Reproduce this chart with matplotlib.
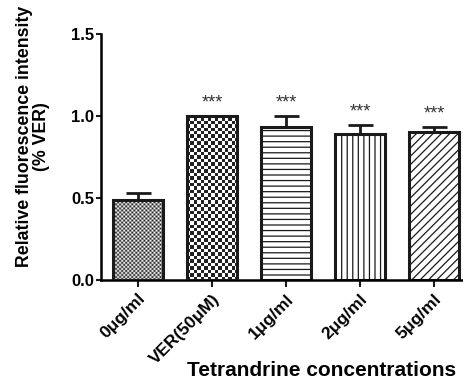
import numpy as np
import matplotlib.pyplot as plt
from matplotlib.colors import LinearSegmentedColormap

plt.rcParams["font.family"] = ["Liberation Sans", "DejaVu Sans"]
plt.rcParams["font.weight"] = "bold"
plt.rcParams["hatch.linewidth"] = 0.9

groups = ["0μg/ml", "VER(50μM)", "1μg/ml", "2μg/ml", "5μg/ml"]
means = [0.49, 1.00, 0.93, 0.89, 0.90]
errors = [0.04, 0.0, 0.07, 0.055, 0.03]
stars = ["", "***", "***", "***", "***"]
hatches = [None, None, "---", "|||", "////"]

checker_cmap = LinearSegmentedColormap.from_list("chk", ["#222222", "#ffffff"])


def checker_fill(ax, bar, cell_x, cell_y, interp):
    x0, y0 = bar.get_x(), bar.get_y()
    w, h = bar.get_width(), bar.get_height()
    nx = int(np.ceil(w / cell_x)) + 1
    ny = int(np.ceil(h / cell_y)) + 1
    ii, jj = np.indices((ny, nx))
    board = (ii + jj) % 2
    im = ax.imshow(board, cmap=checker_cmap, interpolation=interp, aspect="auto",
                   origin="lower", extent=(x0, x0 + nx * cell_x, y0, y0 + ny * cell_y),
                   zorder=1)
    im.set_clip_path(bar)


fig = plt.figure(figsize=(4.63, 3.82), dpi=100)
ax = fig.add_axes([0.218, 0.267, 0.782, 0.644])

x = np.arange(len(groups))
bars = ax.bar(x, means, width=0.68, color="white", edgecolor="#1a1a1a",
              linewidth=2.2, zorder=2)
for b, h in zip(bars, hatches):
    if h:
        b.set_hatch(h)
ax.errorbar(x, means, yerr=[np.zeros(len(errors)), errors], fmt="none",
            ecolor="#1a1a1a", elinewidth=2, capsize=9, capthick=2, zorder=3)

# checkerboard textures for the first two bars
checker_fill(ax, bars[0], 0.027, 0.0122, "antialiased")
checker_fill(ax, bars[1], 0.046, 0.021, "nearest")
for b in bars[:2]:
    b.set_facecolor("none")
    b.set_zorder(3)

for xi, m, e, s in zip(x, means, errors, stars):
    if s:
        ax.text(xi, m + e + 0.03, s, ha="center", va="bottom", fontsize=13,
                fontweight="normal", color="#333333")

ax.set_xlim(-0.5, 4.39)
ax.set_ylim(0, 1.5)
ax.set_yticks([0.0, 0.5, 1.0, 1.5])
ax.set_yticklabels(["0.0", "0.5", "1.0", "1.5"], fontsize=12, fontweight="bold")
ax.set_xticks(x)
ax.set_xticklabels(groups, rotation=45, ha="right", rotation_mode="anchor",
                   fontsize=12.5, fontweight="bold")
ax.tick_params(axis="y", width=1.5, length=3.5, pad=1.5, color="#1a1a1a")
ax.tick_params(axis="x", width=1.5, length=5, pad=3, color="#1a1a1a")
ax.spines["top"].set_visible(False)
ax.spines["right"].set_visible(False)
ax.spines["left"].set_linewidth(1.8)
ax.spines["bottom"].set_linewidth(1.8)
ax.spines["left"].set_bounds(0, 1.5)

ax.set_ylabel("Relative fluorescence intensity\n(% VER)", fontsize=12.8,
              fontweight="bold", linespacing=1.0)
ax.yaxis.set_label_coords(-0.14, 0.585)
ax.set_xlabel("Tetrandrine concentrations", fontsize=15, fontweight="bold")
ax.xaxis.set_label_coords(0.61, -0.33)

fig.savefig("out.png", dpi=100)
